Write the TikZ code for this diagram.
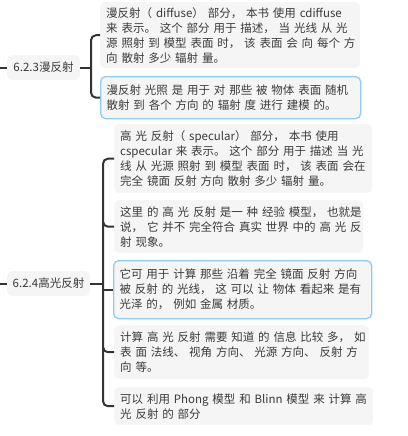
\documentclass[tikz,border=0pt]{standalone}
\usepackage{fontspec}
\setmainfont{Noto Sans CJK SC}
\definecolor{boxgray}{HTML}{F5F5F5}
\definecolor{bluebd}{HTML}{8CCFF3}
\definecolor{txt}{HTML}{3A3A3A}
\definecolor{linec}{HTML}{333333}
\newcommand{\myline}[1]{\mbox{#1}}
\tikzset{
  mmbox/.style={fill=boxgray, rounded corners=5pt, align=left, inner xsep=6pt, inner ysep=2pt,
    anchor=north west, font=\fontsize{11.5}{15}\selectfont, text=txt},
  selbox/.style={draw=bluebd, line width=1.3pt},
  topic/.style={fill=boxgray, rounded corners=5pt, font=\fontsize{11.5}{14}\selectfont, text=txt, inner sep=0pt},
  conn/.style={draw=linec, line width=2pt, rounded corners=5pt}
}
\begin{document}
\begin{tikzpicture}[x=1pt,y=-1pt]
\useasboundingbox (0,0) rectangle (407,436);

% topics
\node[topic, minimum width=73pt, minimum height=25pt] (n1) at (43.5,67.5) {6.2.3漫反射};
\node[topic, minimum width=83pt, minimum height=25pt] (n2) at (48.5,283.5) {6.2.4高光反射};
\coordinate (p1) at (0,67.5);
\coordinate (p2) at (0,283.5);

% boxes for 6.2.3
\node[mmbox, text width=248pt, minimum height=66pt] (b1) at (100,2) {\myline{漫反射（ diffuse） 部分， 本书 使用 cdiffuse}\\\myline{来 表示。 这个 部分 用于 描述， 当 光线 从 光}\\\myline{源 照射 到 模型 表面 时， 该 表面 会 向 每个 方}\\\myline{向 散射 多少 辐射 量。}};
\node[mmbox, selbox, text width=248pt, minimum height=42pt] (b2) at (100,76) {\myline{漫反射 光照 是 用于 对 那些 被 物体 表面 随机}\\\myline{散射 到 各个 方向 的 辐射 度 进行 建模 的。}};

% boxes for 6.2.4
\node[mmbox, text width=246pt, minimum height=69pt] (b3) at (114,124) {\myline{高 光 反射（ specular） 部分， 本书 使用}\\\myline{cspecular 来 表示。 这个 部分 用于 描述 当 光}\\\myline{线 从 光源 照射 到 模型 表面 时， 该 表面 会在}\\\myline{完全 镜面 反射 方向 散射 多少 辐射 量。}};
\node[mmbox, text width=237pt, minimum height=53pt] (b4) at (114,200) {\myline{这里 的 高 光 反射 是一 种 经验 模型， 也就是}\\\myline{说， 它 并不 完全符合 真实 世界 中的 高 光 反}\\\myline{射 现象。}};
\node[mmbox, selbox, text width=246pt, minimum height=58pt] (b5) at (113,260) {\myline{它可 用于 计算 那些 沿着 完全 镜面 反射 方向}\\\myline{被 反射 的 光线， 这 可以 让 物体 看起来 是有}\\\myline{光泽 的， 例如 金属 材质。}};
\node[mmbox, text width=243pt, minimum height=54pt] (b6) at (114,325) {\myline{计算 高 光 反射 需要 知道 的 信息 比较 多， 如}\\\myline{表 面 法线、 视角 方向、 光源 方向、 反射 方}\\\myline{向 等。}};
\node[mmbox, text width=247pt, minimum height=38pt] (b7) at (114,387) {\myline{可以 利用 Phong 模型 和 Blinn 模型 来 计算 高}\\\myline{光 反射 的 部分}};

% connectors
\draw[conn] (p1) -- (n1.west);
\draw[conn] (p2) -- (n2.west);
\coordinate (h1) at (91,67.5);
\coordinate (h2) at (103,283.5);
\draw[conn] (n1.east) -- (h1);
\draw[conn] (b1.west) -- ++(-9,0) |- (b2.west);
\draw[conn] (n2.east) -- (h2);
\draw[conn] (b3.west) -- ++(-11,0) |- (b7.west);
\draw[conn] (b4.west -| h2) ++(0,-5) -- ++(0,5) -- (b4.west);
\draw[conn] (b5.west -| h2) -- (b5.west);
\draw[conn] (b6.west -| h2) ++(0,-5) -- ++(0,5) -- (b6.west);
\end{tikzpicture}
\end{document}
